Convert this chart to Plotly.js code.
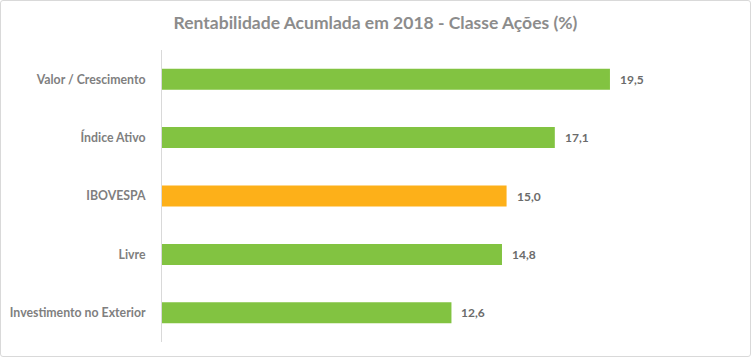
<!DOCTYPE html>
<html>
<head>
<meta charset="utf-8">
<script src="https://cdn.plot.ly/plotly-3.0.1.min.js"></script>
<style>
html,body{margin:0;padding:0;background:#fff;}
#wrap{position:relative;width:751px;height:357px;}
#chart{width:751px;height:357px;}
#frame{position:absolute;left:0;top:0;width:749px;height:355px;border:1px solid #d9d9d9;border-radius:3px;pointer-events:none;}
</style>
</head>
<body>
<div id="wrap"><div id="chart"></div><div id="frame"></div></div>
<script>
const categories = ["Valor / Crescimento", "Índice Ativo", "IBOVESPA", "Livre", "Investimento no Exterior"];
const values = [19.5, 17.1, 15.0, 14.8, 12.6];
const barColors = ["#82C341", "#82C341", "#FDB019", "#82C341", "#82C341"];
const valueLabels = values.map(v => v.toFixed(1).replace('.', ','));

const font = "Lato, 'Open Sans', sans-serif";
const textGrey = "#7f7f7f";

const trace = {
  type: "bar",
  orientation: "h",
  x: values,
  y: categories,
  marker: {color: barColors},
  hoverinfo: "none"
};

const annotations = values.map((v, i) => ({
  x: v, y: categories[i], xref: "x", yref: "y",
  text: "<b>" + valueLabels[i] + "</b>",
  showarrow: false, xanchor: "left", xshift: 8,
  font: {family: font, size: 12, color: "#6b6b6b"}
}));

const layout = {
  width: 751, height: 357,
  margin: {l: 162, r: 17, t: 50, b: 15},
  paper_bgcolor: "#fff", plot_bgcolor: "#fff",
  title: {text: "<b>Rentabilidade Acumlada em 2018 - Classe Ações (%)</b>",
          font: {family: font, size: 17.5, color: "#8c8c8c"}, x: 0.5, xanchor: "center", y: 0.935, yanchor: "middle"},
  showlegend: false,
  bargap: 0.64,
  xaxis: {range: [0, 24.9], visible: false, showgrid: false, zeroline: false, fixedrange: true},
  yaxis: {autorange: false, range: [4.5, -0.5], showline: true, linecolor: "#d9d9d9", linewidth: 1,
          ticks: "", ticklabelstandoff: 13, showgrid: false, zeroline: false,
          tickfont: {family: font, size: 12.3, color: textGrey},
          tickprefix: "<b>", ticksuffix: "</b>"},
  annotations: annotations
};

Plotly.newPlot("chart", [trace], layout, {displayModeBar: false, staticPlot: true});
</script>
</body>
</html>
